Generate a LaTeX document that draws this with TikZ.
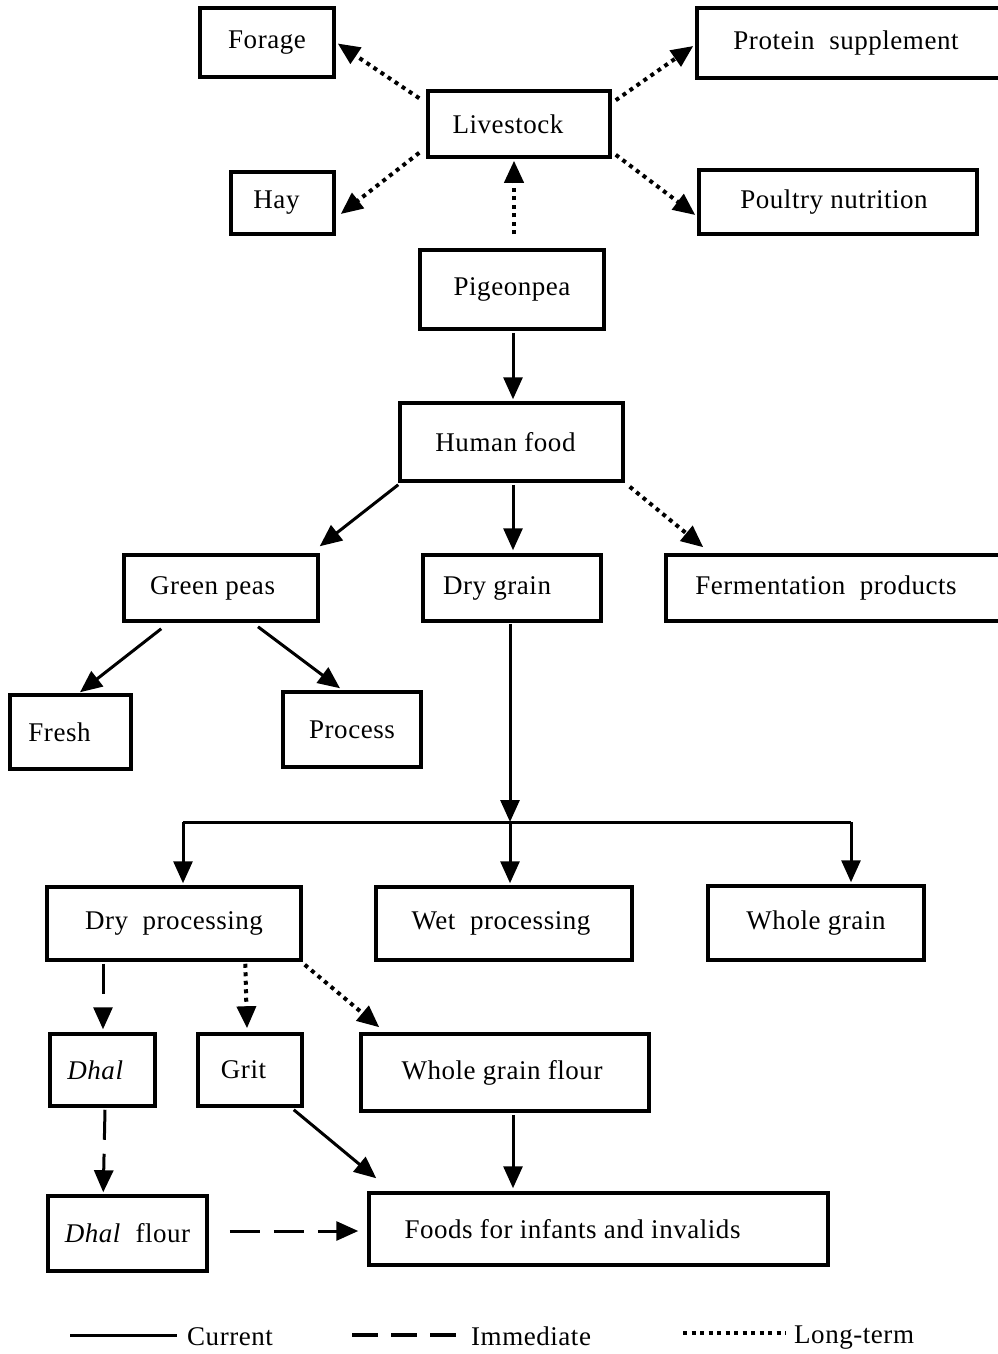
\documentclass[tikz,border=0pt]{standalone}
\usepackage{fontspec}
\setmainfont{Liberation Serif}[LetterSpace=2]
\usetikzlibrary{arrows.meta,calc}
\newcommand\lft[2]{#2\kern#1pt}
\begin{document}
\begin{tikzpicture}[x=1pt,y=-1pt,
  box/.style={draw, line width=3.5pt, inner sep=0pt, rectangle, font=\fontsize{27}{32}\selectfont},
  cur/.style={line width=3pt, -{Triangle[length=22pt,width=19pt]}},
  imm/.style={cur, dash pattern=on 30pt off 14pt},
  lng/.style={cur, line width=4pt, dash pattern=on 4pt off 4.5pt},
  leg/.style={anchor=base west, inner sep=0pt, font=\fontsize{27}{32}\selectfont}]
\useasboundingbox (0,0) rectangle (997,1354);
% boxes
\node[box, minimum width=134pt, minimum height=69pt] (forage) at (267,42.5) {Forage};
\node[box, minimum width=304pt, minimum height=70pt] (protein) at (849,43) {\lft{6}{Protein\ \ supplement}};
\node[box, minimum width=182pt, minimum height=66pt] (live) at (519,124) {\lft{22}{Livestock}};
\node[box, minimum width=103pt, minimum height=62pt] (hay) at (282.5,203) {\lft{12}{Hay}};
\node[box, minimum width=278pt, minimum height=64pt] (poultry) at (838,202) {\lft{8}{Poultry nutrition}};
\node[box, minimum width=184pt, minimum height=79pt] (pigeon) at (512,289.5) {Pigeonpea};
\node[box, minimum width=223pt, minimum height=78pt] (human) at (511.5,442) {\lft{12}{Human food}};
\node[box, minimum width=194pt, minimum height=66pt] (green) at (221,588) {\lft{17}{Green peas}};
\node[box, minimum width=178pt, minimum height=66pt] (dry) at (512,588) {\lft{30}{Dry grain}};
\node[box, minimum width=334pt, minimum height=66pt] (ferm) at (833,588) {\lft{14}{Fermentation\ \ products}};
\node[box, minimum width=121pt, minimum height=74pt] (fresh) at (70.5,732) {\lft{22}{Fresh}};
\node[box, minimum width=138pt, minimum height=75pt] (process) at (352,729.5) {Process};
\node[box, minimum width=254pt, minimum height=73pt] (dryproc) at (174,923.5) {Dry\ \ processing};
\node[box, minimum width=256pt, minimum height=73pt] (wet) at (504,923.5) {\lft{6}{Wet\ \ processing}};
\node[box, minimum width=216pt, minimum height=74pt] (whole) at (816,923) {Whole grain};
\node[box, minimum width=105pt, minimum height=72pt] (dhal) at (102.5,1070) {\lft{14}{\textit{Dhal}}};
\node[box, minimum width=104pt, minimum height=72pt] (grit) at (250,1070) {\lft{13}{Grit}};
\node[box, minimum width=288pt, minimum height=77pt] (wgf) at (505,1072.5) {\lft{6}{Whole grain flour}};
\node[box, minimum width=159pt, minimum height=75pt] (dhalflour) at (127.5,1233.5) {\textit{Dhal}\ \ flour};
\node[box, minimum width=459pt, minimum height=72pt] (foods) at (598.5,1229) {\lft{52}{Foods for infants and invalids}};
% connectors
\draw[lng] ([shift={(-7,9)}]live.north west) -- ([shift={(2,1)}]forage.east);
\draw[lng] ([shift={(-7,-6)}]live.south west) -- ([shift={(5,11)}]hay.east);
\draw[lng] ([shift={(4,11)}]live.north east) -- ([shift={(-2,3)}]protein.west);
\draw[lng] ([shift={(4,-4)}]live.south east) -- ([shift={(-2,13)}]poultry.west);
\draw[lng] ([shift={(2,-14)}]pigeon.north) -- ([shift={(-5,2)}]live.south);
\draw[cur] ([shift={(1,2)}]pigeon.south) -- ([shift={(1.5,-2)}]human.north);
\draw[cur] ([shift={(0,2)}]human.south west) -- ([shift={(0,-7)}]green.north east);
\draw[cur] ([shift={(1.5,2)}]human.south) -- ([shift={(1,-3)}]dry.north);
\draw[lng] ([shift={(5,4)}]human.south east) -- ([shift={(39,-6)}]ferm.north west);
\draw[cur] ([shift={(39,6)}]green.south west) -- ([shift={(9.5,-1)}]fresh.north);
\draw[cur] ([shift={(37,4)}]green.south) -- ([shift={(-12,-2)}]process.north);
\coordinate (jn) at (510,822);
\coordinate (jl) at (183,822);
\coordinate (jr) at (851,822);
\draw[cur] ([shift={(-2,1)}]dry.south) -- (jn);
\draw[line width=3pt] (jl) -- (jr);
\draw[cur] (jl) -- ([yshift=2pt]jl |- dryproc.north);
\draw[cur] (jn) -- ([yshift=2pt]jn |- wet.north);
\draw[cur] (jr) -- ([yshift=2pt]jr |- whole.north);
\draw[imm] ([shift={(0.5,2)}]dryproc.south -| dhal.north) -- ([shift={(0.5,-3)}]dhal.north);
\draw[lng] ([shift={(200,2)}]dryproc.south west) -- ([shift={(-3,-4)}]grit.north);
\draw[lng] ([shift={(2,3)}]dryproc.south east) -- ([shift={(20,-5)}]wgf.north west);
\draw[imm] ([shift={(2.5,2)}]dhal.south) -- ([shift={(57,-2)}]dhalflour.north west);
\draw[cur] ([shift={(-10,2)}]grit.south east) -- ([shift={(9,-13)}]foods.north west);
\draw[cur] ([shift={(8,2)}]wgf.south) -- ([shift={(-85.5,-3)}]foods.north);
\draw[imm] ([shift={(21,-2.5)}]dhalflour.east) -- ([shift={(-9,2)}]foods.west);
% legend
\node[leg] (lcur) at (187,1345) {Current};
\node[leg] (limm) at (471,1345) {Immediate};
\node[leg] (llong) at (794,1343) {Long-term};
\draw[line width=3pt] ([shift={(-117,-10)}]lcur.base west) -- ([shift={(-10,-10)}]lcur.base west);
\draw[line width=3.5pt, dash pattern=on 26pt off 13pt] ([shift={(-119,-10)}]limm.base west) -- ([shift={(-8,-10)}]limm.base west);
\draw[line width=4pt, dash pattern=on 4pt off 4.5pt] ([shift={(-111,-10)}]llong.base west) -- ([shift={(-8,-10)}]llong.base west);
\end{tikzpicture}
\end{document}
